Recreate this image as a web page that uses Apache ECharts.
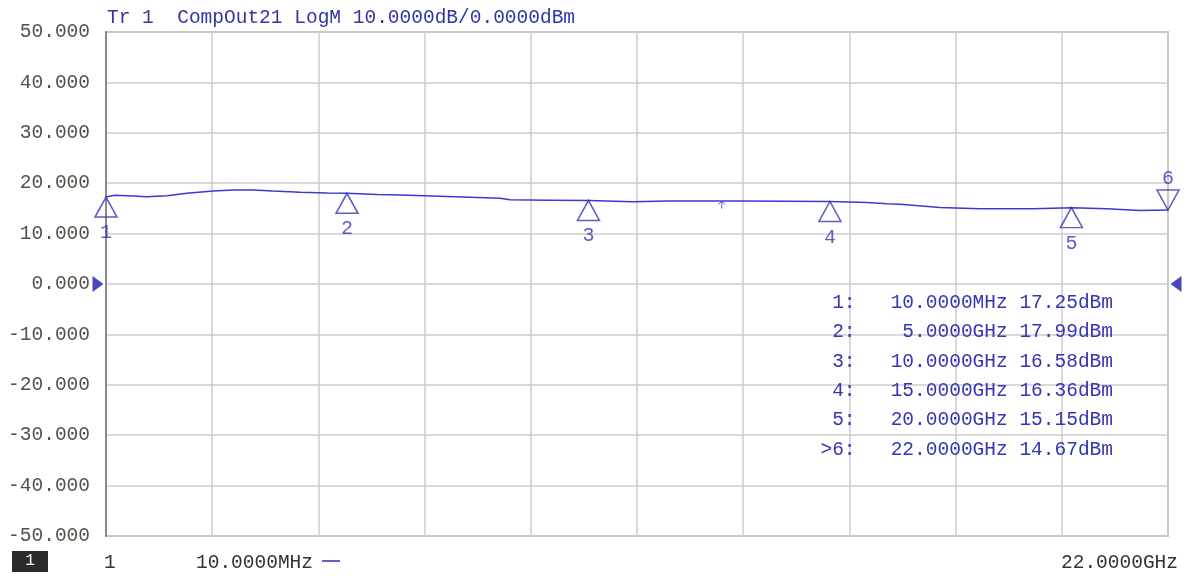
<!DOCTYPE html>
<html><head><meta charset="utf-8">
<script src="https://cdn.jsdelivr.net/npm/echarts@6/dist/echarts.min.js"></script>
<style>html,body{margin:0;padding:0;background:#fff}#c{width:1188px;height:576px}</style>
</head><body><div id="c"></div>
<script>
// Trace data (frequency GHz, dBm)
const traceFreq = [0.01,0.19,0.57,0.85,1.27,1.68,2.23,2.64,3.05,3.47,4.03,4.59,5.0,5.62,6.1,6.6,7.55,8.17,8.37,9.2,10.0,10.92,11.63,13.2,15.0,15.77,16.18,16.45,17.28,18.1,19.2,20.0,20.74,21.42,22.0];
const traceVal  = [17.25,17.6,17.45,17.3,17.5,18.0,18.45,18.65,18.65,18.45,18.2,18.05,17.99,17.75,17.65,17.5,17.2,17.0,16.7,16.62,16.58,16.3,16.47,16.47,16.36,16.15,15.9,15.8,15.2,14.95,14.95,15.15,14.95,14.6,14.67];
// Markers
const markerNames = ['1','2','3','4','5','6'];
const markerFreq = [0.01,5,10,15,20,22];
const markerVal = [17.25,17.99,16.58,16.36,15.15,14.67];
const markerFreqText = ['10.0000MHz','5.0000GHz','10.0000GHz','15.0000GHz','20.0000GHz','22.0000GHz'];
const activeMarker = 5;
// small reference arrow
const arrowFreq = [12.76];
const arrowVal = [16.45];
// axis
const yTicks = [-50,50,10];
const titleText = 'Tr 1  CompOut21 LogM 10.0000dB/0.0000dBm';
const startLabel = '10.0000MHz';
const stopLabel = '22.0000GHz';

const MONO = '"Liberation Mono","DejaVu Sans Mono",monospace';
const BLUE = '#3535b5';
const TRACE = '#3a3ad0';

function pad(s,n){while(s.length<n)s=' '+s;return s;}
const tableLines = markerNames.map((n,i)=>{
  const pre = (i===activeMarker?'>':' ')+n+':';
  return pre+'   '+pad(markerFreqText[i],10)+' '+markerVal[i].toFixed(2)+'dBm';
});

const chart = echarts.init(document.getElementById('c'));
chart.setOption({
  animation:false,
  grid:{left:106,right:20,top:32,bottom:40,show:true,borderColor:'#a8a8a8',borderWidth:1.5},
  xAxis:[
    {type:'value',min:0.01,max:22,show:false,splitLine:{show:false}},
    {type:'value',min:0,max:10,interval:1,position:'bottom',
     axisLine:{show:false},axisTick:{show:false},axisLabel:{show:false},
     splitLine:{show:true,lineStyle:{color:'#cdcdcd',width:1.5}}}
  ],
  yAxis:{type:'value',min:yTicks[0],max:yTicks[1],interval:yTicks[2],
    axisLine:{show:true,lineStyle:{color:'#8a8a8a',width:2}},axisTick:{show:false},
    axisLabel:{formatter:v=>v.toFixed(3),color:'#555048',fontFamily:MONO,fontSize:19.5,margin:16},
    splitLine:{show:true,lineStyle:{color:'#cdcdcd',width:1.5}}},
  series:[
    {type:'line',xAxisIndex:0,data:traceFreq.map((f,i)=>[f,traceVal[i]]),symbol:'none',
     lineStyle:{color:TRACE,width:1.5},z:3},
    {type:'scatter',xAxisIndex:0,clip:false,z:4,
     data:markerFreq.map((f,i)=>{
       const up = i!==activeMarker;
       return {value:[f,markerVal[i]],
         symbol: up?'path://M1,0 L2,2 L0,2 Z':'path://M0,0 L2,0 L1,2 Z',
         symbolSize:[22,20], symbolOffset:[0, up?10:-10],
         label:{show:true,formatter:markerNames[i],position:up?'bottom':'top',distance:up?5:1,
           color:BLUE,fontFamily:MONO,fontSize:20}};
     }),
     itemStyle:{color:'rgba(255,255,255,0)',borderColor:BLUE,borderWidth:1.5}},
    {type:'scatter',xAxisIndex:0,clip:false,z:4,
     data:arrowFreq.map((f,i)=>[f,arrowVal[i]]),
     symbol:'path://M5,0 L5,10 M5,0 L1,4 M5,0 L9,4',symbolSize:[7,7],symbolOffset:[0,4],
     itemStyle:{color:'none',borderColor:BLUE,borderWidth:1}},
    {type:'scatter',xAxisIndex:0,clip:false,z:4,
     data:[{value:[0.01,0],symbol:'path://M0,0 L1,1 L0,2 Z',symbolOffset:[-8,0]},
           {value:[22,0],symbol:'path://M1,0 L0,1 L1,2 Z',symbolOffset:[8,0]}],
     symbolSize:[11,16],itemStyle:{color:'#1a1aaa'}}
  ],
  graphic:[
    {type:'text',z:100,left:107,top:8,style:{text:titleText,fill:'#3434a8',font:'19.5px '+MONO}},
    {type:'text',z:100,right:75,top:288,style:{text:tableLines.join('\n'),fill:BLUE,font:'19.5px '+MONO,lineHeight:29.4,align:'right'}},
    {type:'rect',z:100,shape:{x:12,y:551,width:36,height:21},style:{fill:'#2a2a2a'}},
    {type:'text',z:101,x:30,y:561,style:{text:'1',fill:'#fff',font:'16px '+MONO,align:'center',verticalAlign:'middle'}},
    {type:'text',z:100,x:104,y:563,style:{text:'1',fill:'#333',font:'19.5px '+MONO,verticalAlign:'middle'}},
    {type:'text',z:100,x:196,y:563,style:{text:startLabel,fill:'#333',font:'19.5px '+MONO,verticalAlign:'middle'}},
    {type:'line',z:100,shape:{x1:322,y1:561,x2:340,y2:561},style:{stroke:'#2a2ab0',lineWidth:1.5}},
    {type:'text',z:100,x:1178,y:563,style:{text:stopLabel,fill:'#333',font:'19.5px '+MONO,align:'right',verticalAlign:'middle'}}
  ]
});
</script></body></html>
